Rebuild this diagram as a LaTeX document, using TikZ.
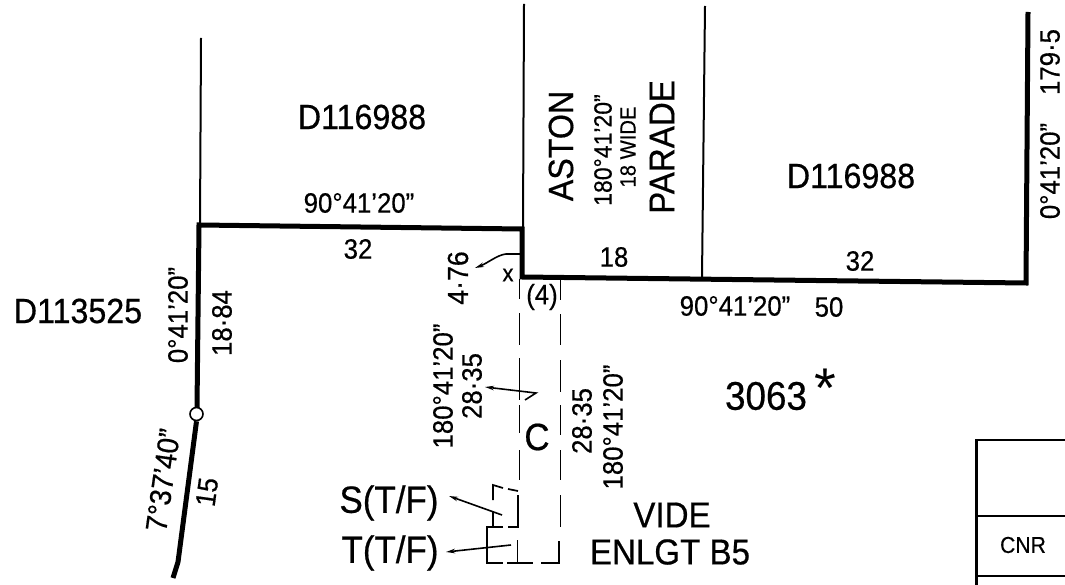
\documentclass[tikz,border=0pt]{standalone}
\usepackage{fontspec}
\setmainfont[FakeStretch=0.92,FakeBold=0.5]{Liberation Sans}
\newfontfamily\starfont{Liberation Sans}
\usetikzlibrary{arrows.meta}
\tikzset{
  thickline/.style={line width=5pt,line join=miter},
  thinline/.style={line width=2pt},
  dashseg/.style={line width=1.7pt},
  leader/.style={line width=1.6pt,-{Stealth[length=9pt,width=4.5pt]}},
  lbl/.style={inner sep=0pt,font=\fontsize{28}{28}\selectfont},
  big/.style={inner sep=0pt,font=\fontsize{35}{35}\selectfont},
  mid/.style={inner sep=0pt,font=\fontsize{36}{36}\selectfont},
  tall/.style={inner sep=0pt,font=\fontsize{38}{38}\selectfont},
  tiny/.style={inner sep=0pt,font=\fontsize{22}{22}\selectfont},
}
\begin{document}
\begin{tikzpicture}[x=1pt,y=-1pt]
\useasboundingbox (0,0) rectangle (1065,585);
% thin parcel lines
\draw[thinline] (201,38) -- (200,225);
\draw[thinline] (524,4) -- (523,228);
\draw[thinline] (705,6) -- (702,277);
% boundary
\draw[thickline] (197,408) -- (199,225) -- (522,229) -- (522,277) -- (1026,283) -- (1028,12);
\node[circle,draw,line width=1.6pt,fill=white,minimum size=13pt,inner sep=0pt] (peg) at (196.5,414) {};
\draw[thickline] (peg.south) -- (178,562) -- (173,578);
% dashed road
\foreach \a/\b in {279/299,313/345,358/400,405/433,450/480}{\draw[dashseg] (519.5,\a) -- (519.5,\b);}
\foreach \a/\b in {280/300,314/345,360/392,405/435,450/480,495/527}{\draw[dashseg] (560.5,\a) -- (560.5,\b);}
\draw[dashseg] (559,541) -- (559,563) -- (541,563);
\draw[dashseg] (493,500) -- (493,485) -- (503,488);
\draw[dashseg] (508,489) -- (518,491);
\draw[dashseg] (518,495) -- (518,527) -- (508,527);
\draw[dashseg] (503,527) -- (493,527) -- (493,512);
\draw[dashseg] (493,527) -- (487,527) -- (487,563) -- (503,563);
\draw[dashseg] (507,563) -- (533,563);
\draw[dashseg] (517.5,540) -- (517.5,563);
% leaders
\coordinate (a1) at (520,254); \coordinate (a2) at (475,268);
\draw[leader] (a1) -- (506,254) .. controls (497,255) and (488,263) .. (a2);
\coordinate (b1) at (525,400); \coordinate (b2) at (536,393); \coordinate (b3) at (485,387);
\draw[leader] (b1) -- (b2) -- (b3);
\coordinate (c1) at (502,515); \coordinate (c2) at (449,496);
\draw[leader] (c1) -- (c2);
\coordinate (d1) at (511,545); \coordinate (d2) at (446,552);
\draw[leader] (d1) -- (d2);
% table
\draw[line width=2.2pt] (1065,440) -- (976.5,440) -- (976.5,585);
\draw[line width=1.8pt] (977,516) -- (1065,516);
\draw[line width=1.8pt] (977,576) -- (1065,576);
% labels
\node[big] (n1) at (362,117) {D116988};
\node[big] (n2) at (851,176) {D116988};
\node[big,rotate=90] (n3) at (561,146) {ASTON};
\node[inner sep=0pt,font=\fontsize{25}{25}\selectfont,rotate=90] (n4) at (603,150) {180°41'20"};
\node[tiny,rotate=90] (n5) at (628,147) {18 WIDE};
\node[mid,rotate=90] (n6) at (662,147) {PARADE};
\node[lbl] (n7) at (359,203) {90°41'20"};
\node[lbl] (n8) at (358,249) {32};
\node[lbl] (n9) at (614,257) {18};
\node[lbl] (n10) at (860,261) {32};
\node[lbl] (n11) at (735,306) {90°41'20"};
\node[lbl] (n12) at (829,307) {50};
\node[lbl,rotate=90] (n13) at (1050,171) {0°41'20"};
\node[lbl,rotate=90] (n14) at (1050,62) {179·5};
\node[big] (n15) at (78,311) {D113525};
\node[lbl,rotate=90] (n16) at (178,315) {0°41'20"};
\node[lbl,rotate=90] (n17) at (222,323) {18·84};
\node[inner sep=0pt,font=\fontsize{30}{30}\selectfont,rotate=82] (n18) at (163,480) {7°37'40"};
\node[lbl,rotate=82] (n19) at (207,492) {15};
\node[inner sep=0pt,font=\fontsize{29}{29}\selectfont,rotate=90] (n20) at (458,278) {4·76};
\node[inner sep=0pt,font=\fontsize{24}{24}\selectfont] (n21) at (508,275) {x};
\node[lbl] (n22) at (542,297) {(4)};
\node[lbl,rotate=90] (n23) at (443,386) {180°41'20"};
\node[lbl,rotate=90] (n24) at (472,386) {28·35};
\node[tall] (n25) at (537,437) {C};
\node[lbl,rotate=90] (n26) at (582,421) {28·35};
\node[lbl,rotate=90] (n27) at (613,427) {180°41'20"};
\node[inner sep=0pt,font=\fontsize{40}{40}\selectfont] (n28) at (766,396) {3063};
\node[inner sep=0pt,font=\starfont\fontsize{56}{56}\selectfont] (n29) at (825,388) {*};
\node[tall] (n30) at (389,503) {S(T/F)};
\node[tall] (n31) at (390,553) {T(T/F)};
\node[mid] (n32) at (672,515) {VIDE};
\node[mid] (n33) at (670,552) {ENLGT B5};
\node[inner sep=0pt,font=\fontsize{23}{23}\selectfont] (n34) at (1023,545) {CNR};
\end{tikzpicture}
\end{document}
